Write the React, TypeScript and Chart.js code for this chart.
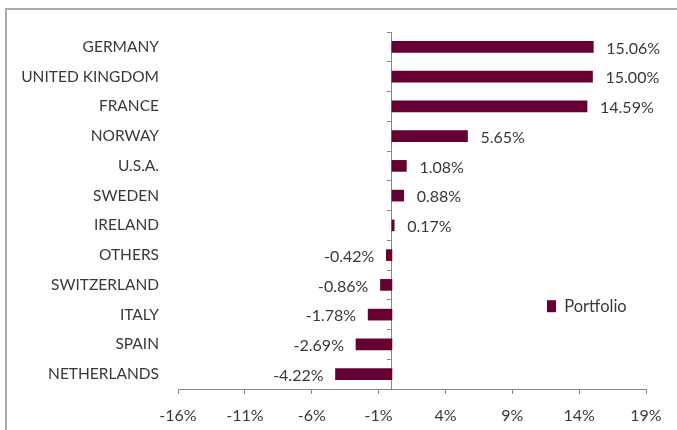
import React, { useEffect, useRef } from "react";
import { Chart, registerables } from "chart.js";

Chart.register(...registerables);

const CATEGORIES = [
  "GERMANY",
  "UNITED KINGDOM",
  "FRANCE",
  "NORWAY",
  "U.S.A.",
  "SWEDEN",
  "IRELAND",
  "OTHERS",
  "SWITZERLAND",
  "ITALY",
  "SPAIN",
  "NETHERLANDS",
];
const PORTFOLIO = [15.06, 15.0, 14.59, 5.65, 1.08, 0.88, 0.17, -0.42, -0.86, -1.78, -2.69, -4.22];
const X_TICKS = [-16, -11, -6, -1, 4, 9, 14, 19];
const SERIES_LABEL = "Portfolio";

const FONT_FAMILY = "Lato, 'Open Sans', sans-serif";
const TEXT_COLOR = "#383838";
const BAR_COLOR = "#660033";
const AXIS_COLOR = "#868686";

const valueLabels = {
  id: "valueLabels",
  afterDatasetsDraw(chart: any) {
    const ctx = chart.ctx;
    const meta = chart.getDatasetMeta(0);
    const data = chart.data.datasets[0].data as number[];
    ctx.save();
    ctx.font = `16px ${FONT_FAMILY}`;
    ctx.fillStyle = TEXT_COLOR;
    ctx.textBaseline = "middle";
    meta.data.forEach((el: any, i: number) => {
      const v = data[i];
      const txt = v.toFixed(2) + "%";
      if (v >= 0) {
        ctx.textAlign = "left";
        ctx.fillText(txt, el.x + 13, el.y + 1.5);
      } else {
        ctx.textAlign = "right";
        ctx.fillText(txt, el.x - 12, el.y + 1.5);
      }
    });
    ctx.restore();
  },
};

export default function App() {
  const ref = useRef<HTMLCanvasElement | null>(null);

  useEffect(() => {
    document.body.style.margin = "0";
    if (!ref.current) return;
    const chart = new Chart(ref.current, {
      type: "bar",
      data: {
        labels: CATEGORIES,
        datasets: [
          {
            label: SERIES_LABEL,
            data: PORTFOLIO,
            backgroundColor: BAR_COLOR,
            borderWidth: 0,
            barThickness: 11,
            yAxisID: "y",
          },
        ],
      },
      options: {
        indexAxis: "y",
        animation: false,
        responsive: true,
        maintainAspectRatio: false,
        layout: { padding: { left: 0, top: 32, right: 31, bottom: 0 } },
        scales: {
          x: {
            type: "linear",
            min: -16,
            max: 19,
            afterBuildTicks: (s: any) => {
              s.ticks = X_TICKS.map((v) => ({ value: v }));
            },
            afterFit: (s: any) => {
              s.height = 41;
            },
            ticks: {
              callback: (v: any) => `${v}%`,
              font: { family: FONT_FAMILY, size: 16 },
              color: TEXT_COLOR,
              padding: 12,
              maxRotation: 0,
            },
            grid: { drawOnChartArea: false, tickLength: 5, color: AXIS_COLOR },
            border: { color: AXIS_COLOR, width: 1 },
          },
          y: {
            type: "category",
            position: "left",
            grid: { display: false, drawTicks: false },
            border: { display: false },
            afterFit: (s: any) => {
              s.width = 178;
            },
            ticks: {
              padding: 19,
              autoSkip: false,
              font: { family: FONT_FAMILY, size: 15.5 },
              color: TEXT_COLOR,
            },
          },
          y2: {
            type: "category",
            axis: "y",
            position: { x: 0 },
            offset: true,
            grid: { offset: true, drawOnChartArea: false, tickLength: 4, color: AXIS_COLOR },
            border: { color: AXIS_COLOR, width: 1 },
            ticks: { display: false },
          } as any,
        },
        plugins: {
          tooltip: { enabled: false },
          legend: {
            position: "chartArea" as any,
            align: "center",
            title: { display: true, text: "", padding: { top: 0, bottom: 241 } },
            labels: {
              boxWidth: 9,
              boxHeight: 12,
              padding: 369,
              font: { family: FONT_FAMILY, size: 16.5 },
              color: TEXT_COLOR,
            },
          },
        },
      },
      plugins: [valueLabels],
    });
    return () => chart.destroy();
  }, []);

  return (
    <div style={{ position: "relative", width: 677, height: 430, overflow: "hidden", background: "#fff" }}>
      <div
        style={{
          position: "absolute",
          left: 5,
          top: 8,
          width: 720,
          height: 460,
          border: "2px solid #ababab",
        }}
      />
      <div style={{ position: "absolute", left: 0, top: 0, width: 677, height: 430 }}>
        <canvas ref={ref} />
      </div>
    </div>
  );
}
